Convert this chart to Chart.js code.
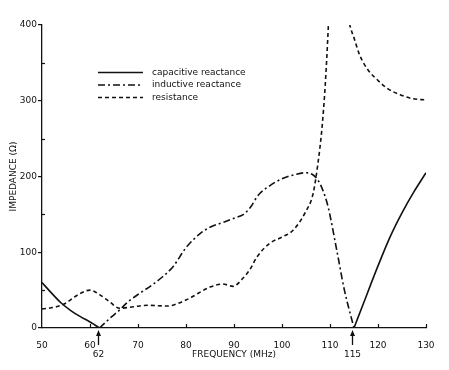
<!DOCTYPE html>
<html lang="en">
<head>
    <meta charset="UTF-8">
    <title>Impedance vs frequency</title>
    <script src="https://cdn.jsdelivr.net/npm/chart.js"></script>
    <style>
        html, body { margin: 0; padding: 0; background: #fff; }
        #wrap { width: 449px; height: 370px; position: relative; }
    </style>
</head>
<body>
    <div id="wrap"><canvas id="impChart"></canvas></div>

    <script>
        // values (MHz, ohms)
        const capFreq = [50, 52, 54, 56, 58, 60, 61, 62, 62.01, 115, 117, 120, 122.5, 125, 127.5, 130];
        const capVal  = [60, 46, 33, 23, 15, 8, 4, 0, null, 0, 33, 82, 120, 152, 180, 205];

        const indFreq = [62, 64, 66.2, 68, 70.4, 73, 75, 77.3, 80, 83, 85, 88, 90, 92, 93.5, 95, 97.5, 100, 103, 105, 106.5, 107.5, 108.5, 109.6, 111.4, 113, 115];
        const indVal  = [0, 12, 24, 35, 46, 57, 67, 81, 106, 125, 133, 140, 145, 150, 160, 175, 188, 197, 203, 205, 202, 195, 182, 160, 103, 50, 0];

        const resFreq = [50, 53, 55, 57, 60, 62, 64, 66.2, 69, 72, 76, 80, 85, 87.7, 89.8, 91.9, 93.3, 94.8, 97.5, 100, 102.3, 104.8, 106.5, 107.5, 108.3, 109, 109.6, 110, 112, 113.5, 114.2, 115, 116.2, 118, 119.8, 122, 124.6, 127, 130];
        const resVal  = [25, 28, 33, 42, 50, 44, 35, 26, 28, 30, 29, 37, 54, 58, 55, 66, 77, 94, 112, 120, 129, 152, 178, 218, 262, 320, 391, 450, null, 420, 398, 383, 360, 340, 328, 316, 308, 303, 301];

        const seriesNames = ['capacitive reactance', 'inductive reactance', 'resistance'];
        const xTicks = [50, 60, 70, 80, 90, 100, 110, 120, 130];
        const yTicks = [0, 100, 200, 300, 400];
        const markedFreqs = [62, 115];

        const ink = '#111';
        const pts = (xs, ys) => xs.map((x, i) => ({ x: x, y: ys[i] }));

        // legend, minor ticks and the arrows under the axis
        const extras = {
            id: 'extras',
            afterDraw(chart) {
                const ctx = chart.ctx;
                const xs = chart.scales.x, ys = chart.scales.y;
                const a = chart.chartArea;
                ctx.save();
                ctx.strokeStyle = ink;
                ctx.fillStyle = ink;
                ctx.lineWidth = 1.2;

                // inward x ticks
                xTicks.slice(1).forEach(v => {
                    const px = Math.round(xs.getPixelForValue(v)) + 0.5;
                    ctx.beginPath();
                    ctx.moveTo(px, a.bottom);
                    ctx.lineTo(px, a.bottom - 4);
                    ctx.stroke();
                });
                // minor y ticks
                yTicks.slice(0, -1).forEach(v => {
                    const py = Math.round(ys.getPixelForValue(v + 50)) + 0.5;
                    ctx.beginPath();
                    ctx.moveTo(a.left, py);
                    ctx.lineTo(a.left + 3, py);
                    ctx.stroke();
                });

                // arrows for the resonance points
                ctx.font = '9px "DejaVu Sans"';
                ctx.textAlign = 'center';
                ctx.textBaseline = 'middle';
                markedFreqs.forEach(f => {
                    const px = Math.round(xs.getPixelForValue(f)) - 1.5;
                    ctx.lineWidth = 1.3;
                    ctx.beginPath();
                    ctx.moveTo(px, a.bottom + 17);
                    ctx.lineTo(px, a.bottom + 6);
                    ctx.stroke();
                    ctx.beginPath();
                    ctx.moveTo(px, a.bottom + 2);
                    ctx.lineTo(px - 2.5, a.bottom + 8);
                    ctx.lineTo(px + 2.5, a.bottom + 8);
                    ctx.closePath();
                    ctx.fill();
                    ctx.fillText(String(f), px, a.bottom + 27);
                });

                // legend
                ctx.font = '9px "DejaVu Sans"';
                ctx.textAlign = 'left';
                chart.data.datasets.forEach((ds, i) => {
                    const y = 72.5 + i * 12.5;
                    ctx.lineWidth = 1.6;
                    ctx.setLineDash(ds.borderDash || []);
                    ctx.beginPath();
                    ctx.moveTo(98, y);
                    ctx.lineTo(143, y);
                    ctx.stroke();
                    ctx.setLineDash([]);
                    ctx.fillText(ds.label, 152, y);
                });
                ctx.restore();
            }
        };

        const ctx = document.getElementById('impChart').getContext('2d');
        new Chart(ctx, {
            type: 'line',
            data: {
                datasets: [{
                    label: seriesNames[0],
                    data: pts(capFreq, capVal),
                    borderColor: ink,
                    borderWidth: 1.6,
                    borderDash: []
                }, {
                    label: seriesNames[1],
                    data: pts(indFreq, indVal),
                    borderColor: ink,
                    borderWidth: 1.6,
                    borderDash: [7, 3, 2, 3]
                }, {
                    label: seriesNames[2],
                    data: pts(resFreq, resVal),
                    borderColor: ink,
                    borderWidth: 1.6,
                    borderDash: [4, 3]
                }]
            },
            options: {
                responsive: true,
                maintainAspectRatio: false,
                animation: false,
                spanGaps: false,
                cubicInterpolationMode: 'monotone',
                elements: { point: { radius: 0 } },
                layout: { padding: { top: 25, right: 23, left: 0, bottom: 0 } },
                plugins: {
                    legend: { display: false },
                    tooltip: { enabled: false }
                },
                scales: {
                    x: {
                        type: 'linear',
                        min: 50,
                        max: 130,
                        afterFit: s => { s.height = 42; },
                        afterBuildTicks: s => { s.ticks = xTicks.map(v => ({ value: v })); },
                        grid: { display: false },
                        border: { display: true, color: ink, width: 1.3 },
                        ticks: { color: ink, padding: 4, maxRotation: 0, font: { family: 'DejaVu Sans', size: 9 } },
                        title: {
                            display: true,
                            text: 'FREQUENCY (MHz)',
                            color: ink,
                            font: { family: 'DejaVu Sans', size: 9 },
                            padding: { top: 0, bottom: 10 }
                        }
                    },
                    y: {
                        min: 0,
                        max: 400,
                        afterFit: s => { s.width = 42; },
                        afterBuildTicks: s => { s.ticks = yTicks.map(v => ({ value: v })); },
                        grid: { drawOnChartArea: false, drawTicks: true, tickLength: 4, color: ink, lineWidth: 1.2 },
                        border: { display: true, color: ink, width: 1.3 },
                        ticks: { color: ink, padding: 1, font: { family: 'DejaVu Sans', size: 9 } },
                        title: {
                            display: true,
                            text: 'IMPEDANCE (\u03A9)',
                            color: ink,
                            font: { family: 'DejaVu Sans', size: 9 },
                            padding: { top: 8, bottom: 0 }
                        }
                    }
                }
            },
            plugins: [extras]
        });
    </script>
</body>
</html>
